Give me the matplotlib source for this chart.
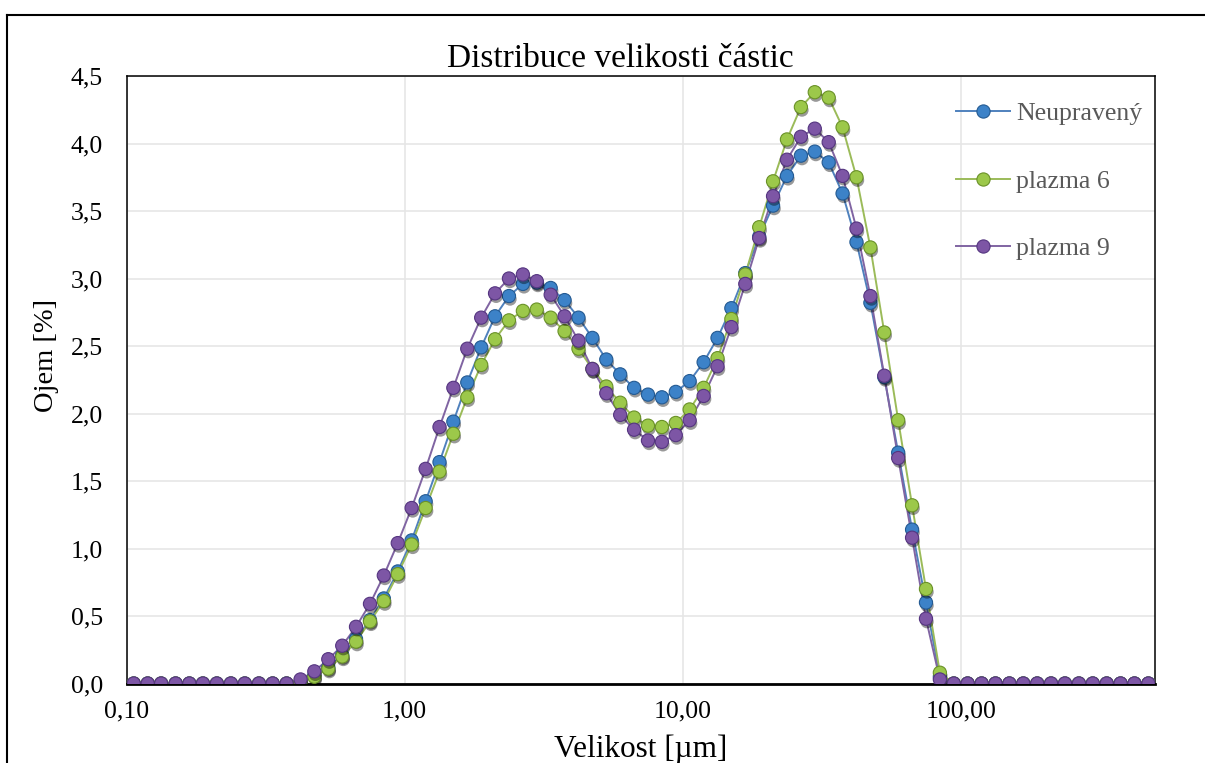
import matplotlib
matplotlib.use('Agg')
import matplotlib.pyplot as plt
import matplotlib.patheffects as pe
from matplotlib.ticker import FixedLocator, NullLocator, FuncFormatter
from matplotlib.lines import Line2D

plt.rcParams['font.family'] = ['Liberation Serif', 'DejaVu Serif']

# particle size classes [um]
size_um = [0.106, 0.119, 0.133, 0.150, 0.168, 0.188, 0.211, 0.237, 0.266, 0.299,
           0.335, 0.376, 0.422, 0.473, 0.531, 0.596, 0.668, 0.750, 0.841, 0.944,
           1.059, 1.189, 1.334, 1.496, 1.679, 1.884, 2.113, 2.371, 2.661, 2.985,
           3.350, 3.758, 4.217, 4.732, 5.309, 5.957, 6.683, 7.499, 8.414, 9.441,
           10.59, 11.89, 13.34, 14.96, 16.79, 18.84, 21.13, 23.71, 26.61, 29.85,
           33.50, 37.58, 42.17, 47.32, 53.09, 59.57, 66.83, 74.99, 84.14, 94.41,
           105.9, 118.9, 133.4, 149.6, 167.9, 188.4, 211.3, 237.1, 266.1, 298.5,
           335.0, 375.8, 421.7, 473.2]

neupraveny = [0, 0, 0, 0, 0, 0, 0, 0, 0, 0,
              0, 0, 0.01, 0.06, 0.12, 0.21, 0.33, 0.47, 0.63, 0.83,
              1.06, 1.35, 1.64, 1.94, 2.23, 2.49, 2.72, 2.87, 2.96, 2.97,
              2.93, 2.84, 2.71, 2.56, 2.40, 2.29, 2.19, 2.14, 2.12, 2.16,
              2.24, 2.38, 2.56, 2.78, 3.04, 3.31, 3.54, 3.76, 3.91, 3.94,
              3.86, 3.63, 3.27, 2.82, 2.27, 1.71, 1.14, 0.60, 0.05, 0,
              0, 0, 0, 0, 0, 0, 0, 0, 0, 0,
              0, 0, 0, 0]

plazma6 = [0, 0, 0, 0, 0, 0, 0, 0, 0, 0,
           0, 0, 0.01, 0.05, 0.11, 0.20, 0.31, 0.46, 0.61, 0.81,
           1.03, 1.30, 1.57, 1.85, 2.12, 2.36, 2.55, 2.69, 2.76, 2.77,
           2.71, 2.61, 2.48, 2.33, 2.20, 2.08, 1.97, 1.91, 1.90, 1.93,
           2.03, 2.19, 2.41, 2.70, 3.03, 3.38, 3.72, 4.03, 4.27, 4.38,
           4.34, 4.12, 3.75, 3.23, 2.60, 1.95, 1.32, 0.70, 0.08, 0,
           0, 0, 0, 0, 0, 0, 0, 0, 0, 0,
           0, 0, 0, 0]

plazma9 = [0, 0, 0, 0, 0, 0, 0, 0, 0, 0,
           0, 0, 0.03, 0.09, 0.18, 0.28, 0.42, 0.59, 0.80, 1.04,
           1.30, 1.59, 1.90, 2.19, 2.48, 2.71, 2.89, 3.00, 3.03, 2.98,
           2.88, 2.72, 2.54, 2.33, 2.15, 1.99, 1.88, 1.80, 1.79, 1.84,
           1.95, 2.13, 2.35, 2.64, 2.96, 3.30, 3.61, 3.88, 4.05, 4.11,
           4.01, 3.76, 3.37, 2.87, 2.28, 1.67, 1.08, 0.48, 0.03, 0,
           0, 0, 0, 0, 0, 0, 0, 0, 0, 0,
           0, 0, 0, 0]

series_labels = ['Neupravený', 'plazma 6', 'plazma 9']
x_ticks = [0.1, 1, 10, 100]
x_tick_labels = ['0,10', '1,00', '10,00', '100,00']

# line colour, marker face, marker edge
styles = [('#4F81BD', '#3C82C8', '#245A92'),
          ('#9BBB59', '#9CC84A', '#6A9128'),
          ('#8064A2', '#7D56A5', '#553580')]

fig = plt.figure(figsize=(12.05, 7.63), dpi=100)
ax = fig.add_axes([0.10515, 0.10419, 0.8534, 0.7962])

shadow = [pe.SimplePatchShadow(offset=(0.8, -2.2), shadow_rgbFace='black', alpha=0.4), pe.Normal()]

for vals, label, (lc, fc, ec) in zip([neupraveny, plazma6, plazma9], series_labels, styles):
    ax.plot(size_um, vals, color=lc, lw=1.4, zorder=3)
    ax.plot(size_um, vals, ls='none', marker='o', ms=9.5, mfc=fc, mec=ec, mew=0.8,
            zorder=4, path_effects=shadow)

ax.set_xscale('log')
ax.set_xlim(0.1, 500)
ax.set_ylim(0, 4.5)

ax.xaxis.set_major_locator(FixedLocator(x_ticks))
ax.xaxis.set_minor_locator(NullLocator())
ax.set_xticklabels(x_tick_labels)
ax.set_yticks([i * 0.5 for i in range(10)])
ax.yaxis.set_major_formatter(FuncFormatter(lambda v, p: f'{v:.1f}'.replace('.', ',')))
ax.tick_params(axis='both', length=0, labelsize=18.5, colors='black')
ax.tick_params(axis='y', pad=17)
ax.tick_params(axis='x', pad=12)

ax.grid(True, color='#E6E6E6', lw=1.2)
ax.set_axisbelow(True)
for side in ['left', 'right', 'top']:
    ax.spines[side].set_linewidth(1.1)
    ax.spines[side].set_color('black')
ax.spines['bottom'].set_linewidth(2.0)
ax.spines['bottom'].set_color('black')

ax.set_ylabel('Ojem [%]', fontsize=20.5)
ax.yaxis.set_label_coords(-0.066, 0.54)
ax.set_xlabel('Velikost [µm]', fontsize=22.5)
ax.xaxis.set_label_coords(0.5, -0.109)
ax.xaxis.label.set_va('center')

fig.text(0.5145, 0.923, 'Distribuce velikosti částic', ha='center', va='center', fontsize=24)

handles = [Line2D([], [], color=lc, lw=1.4, marker='o', ms=9.5, mfc=fc, mec=ec, mew=0.8)
           for lc, fc, ec in styles]
leg = ax.legend(handles, series_labels, loc='upper left', bbox_to_anchor=(956 / 1205, 1 - 102 / 763),
                bbox_transform=fig.transFigure, frameon=False, fontsize=18.5, handlelength=2.1,
                handletextpad=0.25, labelspacing=1.74, borderpad=0, borderaxespad=0)
for t in leg.get_texts():
    t.set_color('#595959')

# outer chart border
fig.add_artist(Line2D([7 / 1205, 7 / 1205], [0, 1 - 15 / 763], color='black', lw=1.5,
                      transform=fig.transFigure))
fig.add_artist(Line2D([7 / 1205, 1], [1 - 15 / 763, 1 - 15 / 763], color='black', lw=1.5,
                      transform=fig.transFigure))

fig.savefig('out.png', dpi=100)
